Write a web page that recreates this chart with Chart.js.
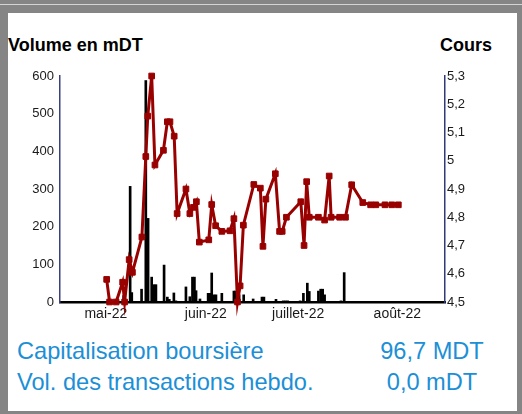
<!DOCTYPE html>
<html>
<head>
<meta charset="utf-8">
<script src="https://cdn.jsdelivr.net/npm/chart.js@4"></script>
<style>
    body { margin: 0; width: 522px; height: 414px; background: #858585; position: relative; overflow: hidden; font-family: "Liberation Sans", Arial, sans-serif; }
    .topline { position: absolute; left: 0; top: 4px; width: 522px; height: 1px; background: #d4d4d4; }
    .panel { position: absolute; left: 8px; top: 13px; width: 509px; height: 398px; background: #fff; }
    .chart-box { position: absolute; left: 0; top: 0; width: 522px; height: 330px; }
    .title { position: absolute; top: 35px; font-weight: bold; font-size: 18px; color: #000; }
    .info { position: absolute; font-size: 23.6px; color: #1c8fd6; white-space: nowrap; }
    .val { text-align: center; width: 160px; }
</style>
</head>
<body>
<div class="topline"></div>
<div class="panel"></div>
<div class="title" style="left:8px">Volume en mDT</div>
<div class="title" style="left:440px">Cours</div>
<div class="chart-box"><canvas id="chart"></canvas></div>
<div class="info" style="left:17px; top:338px">Capitalisation boursière</div>
<div class="info val" style="left:352px; top:338px">96,7 MDT</div>
<div class="info" style="left:17px; top:369px">Vol. des transactions hebdo.</div>
<div class="info val" style="left:352px; top:369px">0,0 mDT</div>

<script>
// ================================
// DATA (x = days from axis start)
// ================================
const coursDays = [14.3, 15.2, 17.2, 19.2, 19.8, 21.2, 22.2, 25.1, 26.3, 26.9, 28.1, 29.1, 31.7, 32.9, 33.7, 35.0,
    35.9, 38.6, 39.8, 40.9, 41.8, 42.7, 45.6, 46.5, 47.7, 49.6, 52.1, 53.3, 54.4, 55.2, 56.2, 59.4, 61.4, 62.2,
    63.1, 66.0, 67.3, 68.1, 69.4, 73.8, 74.8, 75.6, 76.4, 79.2, 81.1, 82.5, 83.1, 85.7, 87.5, 89.4, 92.8, 95.2,
    96.8, 99.6, 101.7, 103.7];
const cours = [4.58, 4.50, 4.50, 4.57, 4.50, 4.65, 4.605, 4.73, 5.015, 5.158, 5.30, 4.985, 5.037, 5.138, 5.138, 5.087,
    4.813, 4.90, 4.813, 4.835, 4.855, 4.712, 4.72, 4.845, 4.77, 4.75, 4.752, 4.795, 4.50, 4.557, 4.772, 4.916, 4.903, 4.697,
    4.864, 4.954, 4.75, 4.75, 4.80, 4.855, 4.70, 4.926, 4.80, 4.80, 4.79, 4.946, 4.80, 4.80, 4.80, 4.915, 4.852, 4.844,
    4.844, 4.844, 4.844, 4.844];

const volDays = [19.5, 21.5, 22.0, 25.0, 26.3, 27.0, 28.1, 28.8, 29.4, 31.9, 32.9, 33.5, 34.9, 35.5, 38.6, 39.8,
    40.6, 41.2, 41.7, 42.9, 45.4, 46.0, 46.5, 47.2, 47.8, 49.6, 53.3, 53.7, 54.9, 56.3, 59.2, 61.9, 62.5, 66.2,
    68.4, 69.1, 69.8, 73.6, 74.6, 75.8, 76.4, 79.2, 79.9, 80.5, 81.1, 86.1, 87.1];
const volumes = [17, 307, 25, 34, 588, 222, 66, 46, 46, 98, 13, 7, 24, 3, 40, 14,
    66, 66, 30, 8, 23, 23, 77, 19, 19, 23, 29, 29, 19, 19, 8, 13, 13, 7,
    3, 3, 3, 3, 23, 50, 28, 29, 34, 34, 19, 3, 78];

const monthPos = [14.05, 44.7, 73.0, 103.4];
const monthLabels = ['mai-22', 'juin-22', 'juillet-22', 'août-22'];

// ================================
// CHART
// ================================
const fmtComma = v => String(Math.round(v * 10) / 10).replace('.', ',');
const tickFont = { family: '"Liberation Sans", Arial', size: 13 };

new Chart(document.getElementById('chart'), {
    type: 'bar',
    data: {
        datasets: [{
            type: 'line',
            data: coursDays.map((d, i) => ({ x: d, y: cours[i] })),
            yAxisID: 'y1',
            borderColor: '#990000',
            backgroundColor: '#990000',
            borderWidth: 3,
            tension: 0,
            pointStyle: 'rect',
            pointRadius: 4,
            pointBorderWidth: 1,
            clip: false,
            order: 0
        }, {
            type: 'bar',
            data: volDays.map((d, i) => ({ x: d, y: volumes[i] })),
            yAxisID: 'y',
            backgroundColor: '#000',
            barThickness: 2,
            order: 1
        }]
    },
    options: {
        responsive: true,
        maintainAspectRatio: false,
        animation: false,
        layout: { padding: { top: 76, left: 0, right: 0, bottom: 0 } },
        plugins: { legend: { display: false }, tooltip: { enabled: false } },
        scales: {
            x: {
                type: 'linear',
                min: 0,
                max: 118,
                offset: false,
                grid: { display: false, drawTicks: false },
                border: { color: '#000', width: 2.5 },
                afterBuildTicks: s => { s.ticks = monthPos.map(v => ({ value: v })); },
                afterFit: s => { s.height = 28; },
                ticks: {
                    autoSkip: false,
                    maxRotation: 0,
                    padding: 4,
                    color: '#1a1a1a',
                    font: { family: '"Liberation Sans", Arial', size: 14 },
                    callback: (v, i) => monthLabels[i]
                }
            },
            y: {
                position: 'left',
                min: 0,
                max: 600,
                grid: { display: false, drawTicks: false },
                border: { color: '#3a4080', width: 1.5 },
                afterFit: s => { s.width = 60; },
                ticks: { stepSize: 100, padding: 6, color: '#1a1a1a', font: tickFont }
            },
            y1: {
                position: 'right',
                min: 4.5,
                max: 5.3,
                grid: { display: false, drawTicks: false },
                border: { color: '#333a7a', width: 1.5 },
                afterFit: s => { s.width = 77; },
                ticks: { stepSize: 0.1, padding: 2, color: '#1a1a1a', font: tickFont, callback: v => fmtComma(v) }
            }
        }
    }
});
</script>
</body>
</html>
